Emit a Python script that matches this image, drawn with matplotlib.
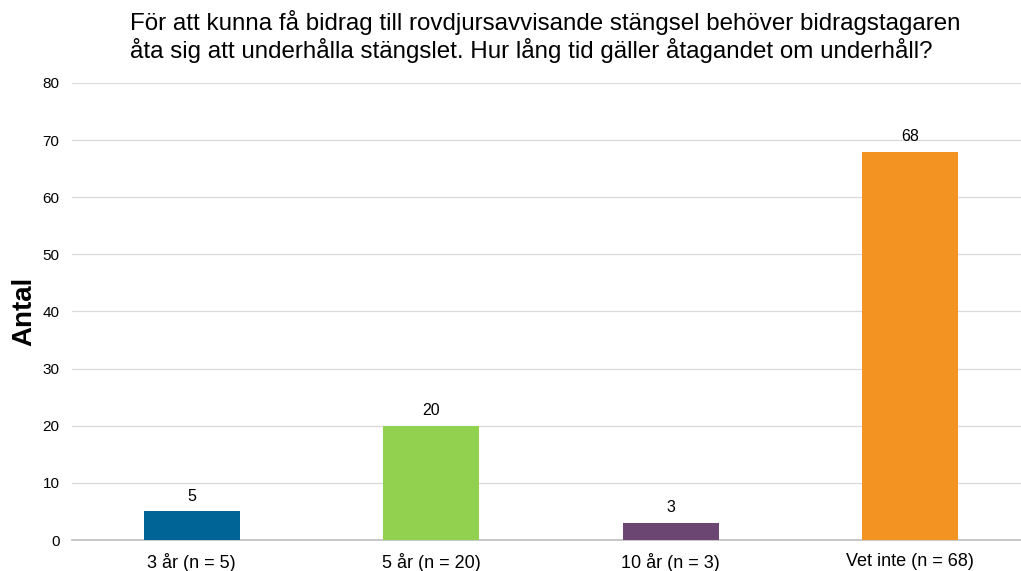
import numpy as np
import matplotlib.pyplot as plt

plt.rcParams['font.family'] = ['Liberation Sans', 'DejaVu Sans']

categories = ["3 år (n = 5)", "5 år (n = 20)", "10 år (n = 3)", "Vet inte (n = 68)"]
values = [5, 20, 3, 68]
colors = ["#006496", "#92D050", "#6B4673", "#F39422"]
title = ("För att kunna få bidrag till rovdjursavvisande stängsel behöver bidragstagaren\n"
         "åta sig att underhålla stängslet. Hur lång tid gäller åtagandet om underhåll?")

fig = plt.figure(figsize=(10.21, 5.71), dpi=100)
ax = fig.add_axes([72 / 1021, 31 / 571, 958 / 1021, 457 / 571])

x = np.arange(len(categories))
bars = ax.bar(x, values, width=0.4, color=colors, zorder=3)
for b, v in zip(bars, values):
    ax.text(b.get_x() + b.get_width() / 2, v + 1.3, str(v),
            ha="center", va="bottom", fontsize=11.5)

ax.set_xlim(-0.5, len(categories) - 0.5)
ax.set_ylim(0, 80)
ax.set_yticks(range(0, 81, 10))
ax.set_xticks(x)
ax.set_xticklabels(categories, fontsize=13)
ax.tick_params(axis="y", labelsize=11, length=0, pad=9)
ax.tick_params(axis="x", length=0, pad=9)
ax.grid(axis="y", color="#d9d9d9", linewidth=0.9, zorder=0)
for s in ["top", "right", "left"]:
    ax.spines[s].set_visible(False)
ax.spines["bottom"].set_color("#bfbfbf")
ax.spines["bottom"].set_linewidth(1.2)
ax.set_ylabel("Antal", fontsize=20, fontweight="bold", labelpad=4)

fig.text(130 / 1021, 0.983, title, ha="left", va="top", fontsize=17.4, linespacing=1.15)

fig.savefig("out.png", dpi=100)
